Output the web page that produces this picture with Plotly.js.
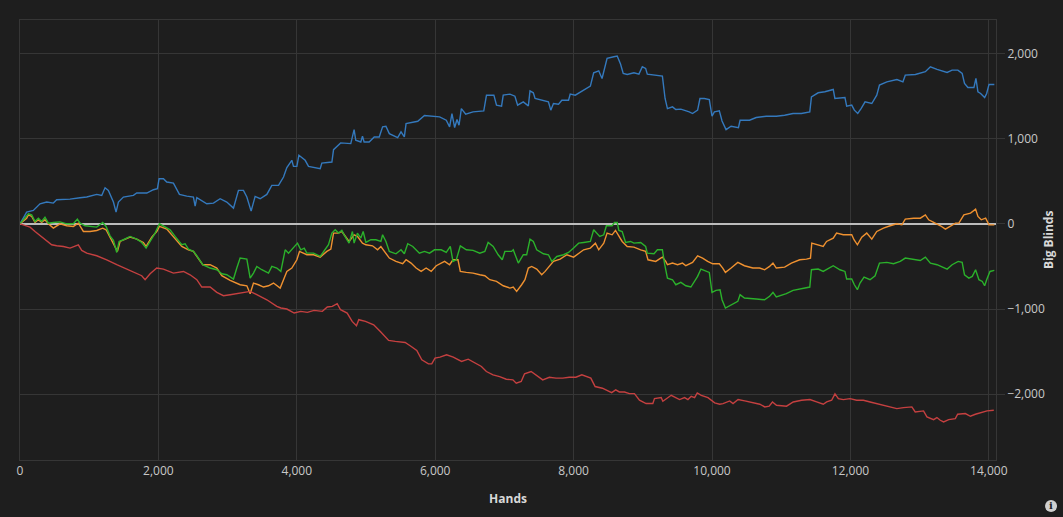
<!DOCTYPE html>
<html>
<head>
<meta charset="utf-8">
<script src="https://cdn.plot.ly/plotly-3.0.1.min.js"></script>
<style>html,body{margin:0;padding:0;background:#1e1e1e;}#chart{width:1063px;height:517px;}</style>
</head>
<body>
<div id="chart"></div>
<script>
var xTicks = [0, 2000, 4000, 6000, 8000, 10000, 12000, 14000];
var yTicks = [-2000, -1000, 0, 1000, 2000];

var blueX = [0,96,193,289,386,482,530,723,868,964,1109,1181,1229,1277,1350,1388,1422,1494,1639,1687,1832,1928,1986,2010,2073,2121,2217,2304,2410,2506,2531,2555,2699,2796,2892,2988,3085,3157,3229,3278,3340,3398,3470,3567,3639,3736,3808,3856,3928,3952,4001,4030,4121,4169,4338,4362,4507,4531,4634,4780,4828,4852,4925,4949,4973,5046,5119,5191,5240,5288,5337,5458,5506,5554,5579,5748,5845,6063,6160,6208,6242,6281,6315,6344,6378,6441,6547,6702,6741,6848,6886,6959,6983,7080,7152,7191,7273,7346,7370,7418,7443,7636,7670,7709,7782,7830,7927,7951,8024,8145,8242,8290,8363,8411,8445,8484,8581,8630,8678,8717,8775,8872,8944,8993,9041,9065,9283,9322,9356,9429,9477,9550,9671,9719,9792,9826,9889,9961,10000,10034,10106,10145,10203,10276,10382,10406,10542,10639,10784,10929,11050,11171,11292,11413,11437,11534,11631,11752,11776,11921,11946,12019,12057,12106,12154,12212,12309,12381,12420,12527,12672,12759,12793,12939,13083,13156,13252,13397,13470,13553,13615,13649,13698,13785,13814,13843,13882,13940,13969,14003,14080];
var blueY = [0,137,157,235,255,243,282,290,306,314,345,333,423,392,255,137,255,314,333,361,361,400,412,529,529,490,478,345,325,314,208,306,235,243,294,255,184,392,392,314,149,321,294,345,451,451,549,659,745,674,674,804,745,674,647,713,725,870,949,941,1105,980,960,1027,960,960,1019,1019,1137,1145,1058,1011,1078,1019,1176,1203,1270,1254,1215,1137,1294,1129,1223,1156,1352,1286,1313,1325,1509,1509,1392,1380,1509,1521,1497,1392,1431,1384,1560,1537,1470,1431,1333,1411,1403,1450,1450,1521,1509,1568,1615,1772,1795,1705,1823,1940,1960,1968,1874,1764,1752,1772,1756,1842,1823,1756,1733,1470,1352,1372,1341,1345,1313,1294,1333,1470,1470,1458,1262,1313,1325,1207,1105,1145,1129,1215,1215,1247,1262,1262,1274,1294,1294,1313,1490,1537,1549,1576,1470,1482,1380,1392,1333,1294,1352,1431,1411,1509,1627,1666,1693,1666,1744,1752,1784,1842,1811,1776,1803,1803,1764,1646,1599,1599,1705,1549,1529,1482,1529,1635,1635];

var orangeX = [0,96,121,169,217,265,313,361,410,482,578,675,771,843,916,1012,1109,1195,1244,1311,1374,1408,1446,1591,1687,1783,1822,1904,1976,2015,2121,2241,2338,2434,2506,2555,2641,2747,2844,2916,3037,3181,3278,3326,3374,3446,3519,3591,3663,3760,3856,3928,4001,4039,4097,4145,4242,4338,4434,4492,4531,4603,4651,4683,4755,4828,4876,4949,4998,5094,5167,5215,5288,5337,5433,5530,5579,5651,5724,5797,5869,5942,6015,6087,6136,6208,6257,6329,6363,6450,6547,6644,6717,6789,6886,6983,7080,7128,7177,7249,7297,7346,7394,7467,7539,7588,7661,7709,7806,7903,8000,8048,8145,8242,8315,8363,8436,8484,8557,8605,8654,8702,8775,8872,8969,9041,9075,9187,9259,9284,9332,9356,9429,9502,9574,9622,9719,9792,9864,9937,10010,10106,10155,10194,10276,10373,10469,10590,10687,10760,10832,10881,10929,11050,11147,11268,11365,11423,11442,11510,11607,11655,11752,11800,11897,12019,12052,12101,12164,12236,12309,12381,12478,12575,12672,12744,12793,12914,13010,13083,13131,13204,13301,13373,13446,13519,13567,13640,13736,13809,13843,13891,13954,14003,14080];
var orangeY = [0,66,105,86,16,47,16,47,0,-51,0,-23,-31,8,-90,-90,-78,-51,-70,-168,-266,-324,-207,-156,-180,-219,-266,-156,-90,-31,-62,-168,-266,-305,-324,-383,-480,-480,-519,-609,-664,-715,-727,-820,-695,-715,-742,-727,-695,-754,-558,-519,-422,-324,-344,-363,-363,-391,-324,-297,-109,-109,-90,-129,-207,-129,-148,-227,-246,-258,-305,-266,-344,-402,-441,-469,-422,-461,-519,-558,-519,-558,-492,-461,-441,-480,-422,-422,-558,-570,-578,-598,-609,-656,-676,-727,-754,-742,-793,-715,-656,-519,-500,-531,-598,-558,-480,-441,-414,-363,-391,-363,-305,-285,-227,-305,-227,-109,-129,-78,-141,-207,-266,-273,-305,-324,-422,-441,-402,-391,-441,-480,-461,-480,-461,-492,-453,-375,-402,-441,-469,-469,-519,-570,-519,-453,-492,-519,-519,-539,-500,-461,-519,-508,-461,-422,-414,-402,-227,-246,-266,-207,-168,-109,-129,-129,-187,-246,-156,-109,-180,-90,-51,-23,0,-12,55,66,66,105,47,16,-23,-62,-31,8,8,105,125,172,86,47,66,-12,-12];

var greenX = [0,96,121,169,217,265,313,361,410,482,578,675,771,829,868,940,1109,1195,1244,1301,1350,1398,1432,1494,1591,1687,1759,1822,1904,1952,2015,2073,2169,2241,2338,2386,2434,2506,2555,2641,2747,2844,2916,2988,3085,3133,3181,3278,3326,3374,3422,3494,3591,3639,3711,3769,3832,3880,3928,4010,4058,4107,4145,4242,4338,4410,4458,4507,4555,4603,4651,4683,4755,4804,4828,4876,4925,4959,4998,5070,5143,5215,5240,5288,5337,5433,5506,5554,5603,5676,5772,5845,5918,5990,6087,6160,6218,6257,6305,6363,6450,6547,6644,6717,6765,6838,6910,6969,7007,7104,7128,7201,7273,7322,7370,7418,7467,7564,7636,7685,7758,7855,7927,8000,8073,8145,8242,8290,8329,8378,8436,8474,8557,8591,8630,8654,8702,8751,8823,8872,8969,9041,9065,9162,9211,9283,9317,9356,9429,9477,9550,9622,9695,9743,9792,9840,9913,9961,10000,10058,10116,10145,10194,10276,10373,10406,10469,10639,10760,10832,10881,10929,11074,11171,11317,11413,11437,11534,11607,11752,11849,11921,11946,12019,12057,12101,12139,12197,12284,12357,12420,12527,12623,12720,12793,12914,13010,13083,13156,13252,13398,13470,13557,13615,13649,13712,13761,13809,13857,13906,13940,13969,14017,14080];
var greenY = [0,86,117,105,27,66,27,78,8,16,23,0,0,55,8,-23,-39,16,-31,-141,-195,-336,-207,-187,-148,-180,-219,-285,-168,-109,0,-23,-70,-148,-246,-234,-297,-324,-375,-480,-519,-539,-586,-598,-648,-519,-402,-414,-637,-578,-500,-539,-578,-500,-519,-558,-305,-344,-305,-227,-305,-285,-344,-344,-383,-297,-246,-109,-70,-109,-78,-129,-227,-90,-227,-109,-168,-90,-219,-187,-187,-207,-129,-207,-324,-352,-305,-352,-234,-266,-344,-324,-344,-305,-305,-336,-266,-441,-422,-258,-305,-312,-344,-324,-219,-266,-363,-422,-324,-324,-305,-461,-363,-363,-180,-207,-305,-352,-363,-441,-383,-363,-336,-285,-227,-219,-207,-70,-109,-148,-129,-23,-23,16,16,-78,-90,-219,-207,-227,-219,-266,-344,-352,-305,-305,-480,-637,-656,-715,-687,-727,-742,-687,-617,-531,-559,-570,-805,-781,-773,-891,-988,-949,-910,-832,-871,-883,-891,-851,-805,-859,-820,-781,-754,-742,-539,-531,-559,-492,-539,-559,-648,-648,-715,-773,-695,-625,-656,-609,-461,-453,-469,-441,-402,-422,-430,-391,-461,-480,-531,-480,-441,-453,-598,-637,-617,-539,-656,-676,-727,-656,-559,-547];

var redX = [0,145,217,313,361,458,530,627,723,843,892,964,1109,1253,1398,1542,1687,1759,1808,1880,1976,2073,2217,2362,2458,2555,2627,2747,2844,2940,3037,3181,3326,3422,3567,3711,3770,3856,3962,4057,4153,4249,4369,4441,4513,4584,4632,4728,4800,4862,4896,4992,5111,5207,5327,5423,5566,5638,5734,5806,5902,5950,5997,6069,6165,6261,6381,6477,6572,6668,6740,6836,6931,7027,7123,7171,7243,7291,7386,7458,7554,7650,7746,7842,7937,8033,8119,8249,8311,8416,8550,8608,8662,8735,8807,8879,8952,9048,9145,9169,9266,9290,9411,9531,9604,9652,9700,9749,9787,9845,9942,10039,10111,10159,10256,10304,10377,10473,10594,10691,10763,10826,10874,10932,11077,11174,11294,11415,11512,11608,11657,11729,11777,11826,11898,11995,12091,12188,12285,12381,12478,12574,12671,12768,12888,12937,13057,13106,13202,13250,13299,13347,13420,13516,13550,13661,13734,13806,13903,13975,14072];
var redY = [0,-39,-90,-148,-187,-246,-258,-266,-285,-246,-312,-344,-375,-422,-480,-531,-578,-609,-656,-586,-519,-531,-578,-559,-598,-656,-742,-742,-805,-844,-832,-812,-793,-832,-891,-969,-988,-1000,-1047,-1027,-1039,-1016,-1027,-976,-969,-937,-1008,-1047,-1145,-1196,-1125,-1145,-1184,-1263,-1368,-1380,-1392,-1431,-1486,-1596,-1643,-1643,-1576,-1564,-1537,-1564,-1615,-1588,-1635,-1674,-1733,-1772,-1792,-1823,-1831,-1870,-1850,-1760,-1733,-1772,-1831,-1800,-1811,-1811,-1800,-1800,-1772,-1811,-1909,-1929,-1980,-1949,-1973,-1973,-1992,-1992,-2070,-2109,-2109,-2051,-2039,-2082,-2012,-2062,-2039,-2062,-2023,-2039,-1984,-2012,-2039,-2101,-2117,-2109,-2078,-2109,-2062,-2078,-2101,-2117,-2148,-2140,-2090,-2129,-2140,-2090,-2070,-2062,-2090,-2117,-2090,-2070,-1996,-2051,-2062,-2051,-2070,-2070,-2090,-2109,-2129,-2140,-2168,-2156,-2148,-2207,-2195,-2265,-2297,-2273,-2305,-2324,-2297,-2285,-2234,-2226,-2258,-2234,-2207,-2195,-2187];

function line(x, y, color) {
  return {x: x, y: y, type: 'scatter', mode: 'lines', line: {color: color, width: 1.4}, hoverinfo: 'skip', showlegend: false};
}

var data = [
  line(blueX, blueY, '#3479bd'),
  line(orangeX, orangeY, '#ef9130'),
  line(greenX, greenY, '#2bb12b'),
  line(redX, redY, '#c54040')
];

var grid = '#363636';
var tickCol = '#c8c8c8';
var font = 'Open Sans, Noto Sans, sans-serif';

var layout = {
  width: 1063, height: 517,
  margin: {l: 20, r: 67, t: 20, b: 57},
  paper_bgcolor: '#1e1e1e', plot_bgcolor: '#1e1e1e',
  font: {family: font, color: tickCol, size: 12},
  xaxis: {
    range: [0, 14104], tickvals: xTicks, tickformat: ',',
    gridcolor: grid, gridwidth: 1, showline: true, linecolor: grid, mirror: true,
    zeroline: false, ticks: '', tickfont: {size: 12, color: tickCol},
    title: {text: '<b>Hands</b>', font: {size: 12, color: '#d8d8d8'}, standoff: 16}
  },
  yaxis: {
    side: 'right', range: [-2771, 2391], tickvals: yTicks, tickformat: ',',
    gridcolor: grid, gridwidth: 1, showline: true, linecolor: grid, mirror: true,
    ticks: 'outside', ticklen: 8, tickcolor: grid,
    zeroline: true, zerolinecolor: '#bcbcbc', zerolinewidth: 2,
    tickfont: {size: 12, color: tickCol}
  },
  shapes: [{
    type: 'circle', xref: 'paper', yref: 'paper', xsizemode: 'pixel', ysizemode: 'pixel',
    xanchor: 1.0564, yanchor: -0.1045, x0: -6, x1: 6, y0: -6, y1: 6,
    fillcolor: '#d0d0d0', line: {width: 0}
  }],
  annotations: [{
    xref: 'paper', yref: 'paper', x: 1.0564, y: -0.1045, text: '<b>i</b>',
    showarrow: false, font: {size: 10, color: '#1e1e1e', family: 'DejaVu Serif'},
    xanchor: 'center', yanchor: 'middle'
  }, {
    xref: 'paper', yref: 'paper', x: 1.0533, y: 0.5, text: '<b>Big Blinds</b>',
    textangle: -90, showarrow: false, font: {size: 12, color: '#d8d8d8'},
    xanchor: 'center', yanchor: 'middle'
  }]
};

Plotly.newPlot('chart', data, layout, {displayModeBar: false, staticPlot: true});
</script>
</body>
</html>
